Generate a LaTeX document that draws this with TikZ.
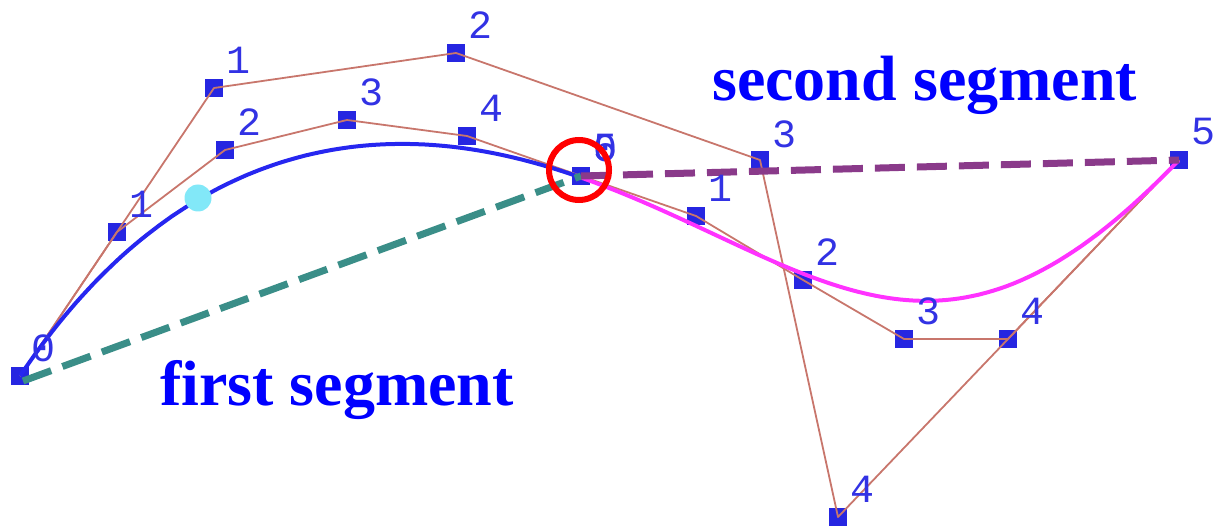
\documentclass[tikz,border=0pt]{standalone}
\usepackage{fontspec}
\setmainfont{Liberation Serif}
\newfontfamily\lblfont{Liberation Mono}
\usetikzlibrary{calc}
\definecolor{ptblue}{RGB}{38,38,225}
\definecolor{lblblue}{RGB}{50,50,228}
\definecolor{polybrown}{RGB}{200,118,108}
\definecolor{curveblue}{RGB}{38,38,240}
\definecolor{curvemag}{RGB}{255,50,255}
\definecolor{tealdash}{RGB}{58,142,136}
\definecolor{purpdash}{RGB}{138,58,138}
\definecolor{cyandot}{RGB}{130,232,248}
\tikzset{
  pt/.style={rectangle, fill=ptblue, minimum size=18pt, inner sep=0pt},
  lbl/.style={font=\lblfont\fontsize{40}{40}\selectfont, text=lblblue, inner sep=0pt},
  poly/.style={draw=polybrown, line width=1.8pt, line join=round},
  segtext/.style={font=\bfseries\fontsize{64}{70}\selectfont, text=blue, inner sep=0pt, anchor=base west},
  dashline/.style={line width=7pt, dash pattern=on 30pt off 12pt},
}
\begin{document}
\begin{tikzpicture}[x=1pt,y=-1pt]
\useasboundingbox (0,0) rectangle (1225,529);
% outer control polygon
\coordinate (p0) at (20,376);
\coordinate (p1) at (214,88);
\coordinate (p2) at (456,53);
\coordinate (p3) at (760,160);
\coordinate (p4) at (838,517);
\coordinate (p5) at (1179,160);
% first segment polygon
\coordinate (q1) at (117,232);
\coordinate (q2) at (225,150);
\coordinate (q3) at (347,120);
\coordinate (q4) at (467,136);
\coordinate (e0) at (581,176);
% second segment polygon
\coordinate (r1) at (696,216);
\coordinate (r2) at (803,280);
\coordinate (r3) at (904,339);
\coordinate (r4) at (1008,339);
% squares
\foreach \c in {p0,p1,p2,p3,p4,p5,q1,q2,q3,q4,e0,r1,r2,r3,r4}
  \node[pt] (s\c) at (\c) {};
% polygons
\draw[poly] (p0) -- (p1) -- (p2) -- (p3) -- (p4) -- (p5);
\draw[poly] (p0) -- (q1) -- (q2) -- (q3) -- (q4) -- (e0);
\draw[poly] (e0) -- (r1) -- (r2) -- (r3) -- (r4) -- (p5);
% curves
\draw[curveblue, line width=4pt] plot[domain=0:0.5, samples=90, variable=\t]
  ({(1-\t)^5*20+5*\t*(1-\t)^4*214+10*\t^2*(1-\t)^3*456+10*\t^3*(1-\t)^2*760+5*\t^4*(1-\t)*838+\t^5*1179},
   {(1-\t)^5*376+5*\t*(1-\t)^4*88+10*\t^2*(1-\t)^3*53+10*\t^3*(1-\t)^2*160+5*\t^4*(1-\t)*517+\t^5*160});
\draw[curvemag, line width=4pt] plot[domain=0.5:1, samples=90, variable=\t]
  ({(1-\t)^5*20+5*\t*(1-\t)^4*214+10*\t^2*(1-\t)^3*456+10*\t^3*(1-\t)^2*760+5*\t^4*(1-\t)*838+\t^5*1179},
   {(1-\t)^5*376+5*\t*(1-\t)^4*88+10*\t^2*(1-\t)^3*53+10*\t^3*(1-\t)^2*160+5*\t^4*(1-\t)*517+\t^5*160});
% cyan point
\node[circle, fill=cyandot, minimum size=27pt, inner sep=0pt] (cy) at (198,198) {};
% dashed chords
\coordinate (ts) at (23,381);
\draw[dashline, draw=tealdash] (ts) -- (e0);
\draw[dashline, draw=purpdash] (e0) -- (p5);
% labels
\node[lbl] (l0) at ($(p0)+(24,-28)$) {0};
\node[lbl] (l1) at ($(p1)+(24,-28)$) {1};
\node[lbl] (l2) at ($(p2)+(24,-28)$) {2};
\node[lbl] (l3) at ($(p3)+(24,-26)$) {3};
\node[lbl] (l4) at ($(p4)+(24,-28)$) {4};
\node[lbl] (l5) at ($(p5)+(24,-28)$) {5};
\node[lbl] (lq1) at ($(q1)+(24,-28)$) {1};
\node[lbl] (lq2) at ($(q2)+(24,-28)$) {2};
\node[lbl] (lq3) at ($(q3)+(24,-28)$) {3};
\node[lbl] (lq4) at ($(q4)+(24,-28)$) {4};
\node[lbl] (le5) at ($(e0)+(24,-28)$) {5};
\node[lbl] (le0) at ($(e0)+(24,-28)$) {0};
\node[lbl] (lr1) at ($(r1)+(24,-28)$) {1};
\node[lbl] (lr2) at ($(r2)+(24,-28)$) {2};
\node[lbl] (lr3) at ($(r3)+(24,-28)$) {3};
\node[lbl] (lr4) at ($(r4)+(24,-28)$) {4};
% red circle
\node[circle, draw=red, line width=6pt, minimum size=60pt, inner sep=0pt] (ring) at (579,170) {};
% texts
\node[segtext] (t1) at (160,405) {first segment};
\node[segtext] (t2) at (712,101) {second segment};
\end{tikzpicture}
\end{document}
